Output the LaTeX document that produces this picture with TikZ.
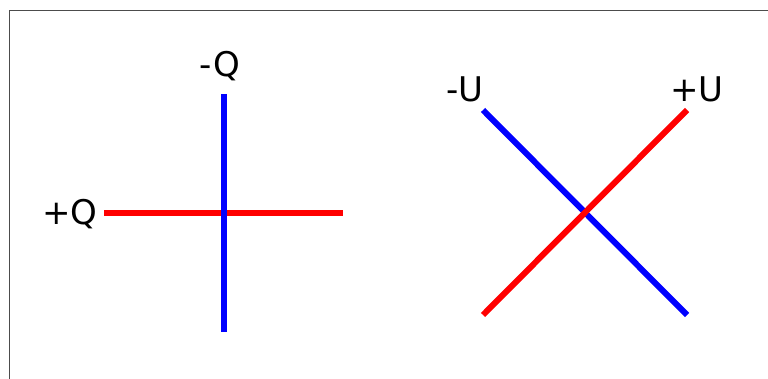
\documentclass[tikz,border=0pt]{standalone}
\usepackage{fontspec}
\setmainfont{DejaVu Sans}
\begin{document}
\begin{tikzpicture}[x=1pt,y=-1pt,line width=6pt,
  lbl/.style={font=\fontsize{34}{40}\selectfont,inner sep=0pt},
  bar/.style={line cap=butt}]
  \useasboundingbox (0,0) rectangle (768,379);
  % thin frame, open to the right and bottom
  \draw[line width=1.2pt,black!70] (9.5,379) |- (768,10.5);
  % left cross: Q axes
  \coordinate (qW) at (104,213.3);
  \coordinate (qE) at (343,213.3);
  \coordinate (qN) at (224,94);
  \coordinate (qS) at (224,332);
  \draw[bar,red] (qW) -- (qE);
  \draw[bar,blue] (qN) -- (qS);
  \node[lbl] (minusQ) at (220,66) {-Q};
  \node[lbl] (plusQ) at (70,214) {+Q};
  % right cross: U axes, rotated
  \coordinate (uNW) at (483,110);
  \coordinate (uSE) at (687,315);
  \coordinate (uSW) at (483,315);
  \coordinate (uNE) at (687,110);
  \draw[bar,blue] (uNW) -- (uSE);
  \draw[bar,red] (uSW) -- (uNE);
  \node[lbl] (minusU) at (465,89) {-U};
  \node[lbl] (plusU) at (697,89) {+U};
\end{tikzpicture}
\end{document}
